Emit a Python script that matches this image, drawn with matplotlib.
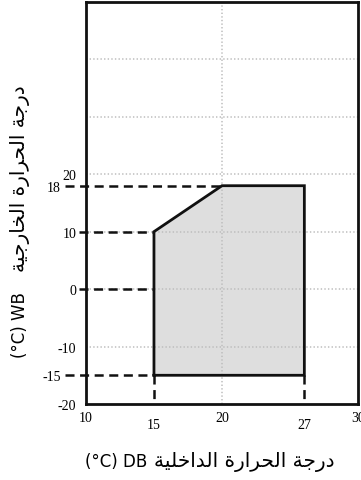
import matplotlib
matplotlib.use("Agg")
import matplotlib.pyplot as plt
import numpy as np

plt.rcParams["lines.scale_dashes"] = False

W_PX, H_PX = 361, 481

# 运行范围（室内干球 DB / 室外湿球 WB）
envelope_db = [15, 15, 20, 27, 27]
envelope_wb = [-15, 10, 18, 18, -15]

x_major = [10, 20, 30]
x_minor = [15, 27]
y_major = [-20, -10, 0, 10, 20]
y_minor = [-15, 18]
y_grid = [-10, 0, 10, 20, 30, 40]
x_grid = [20]

# 虚线引导线
guide_wb = [18, 10, 0, -15]
guide_db_end = [20, 15, 15, 15]
guide_db_start = [8.45, 9.5, 9.5, 8.45]
drop_db = [15, 27]
drop_wb = [-15, -20]

# 示意图的 x 轴不是线性的（27 画得偏左）
_src = [0, 10, 15, 20, 27, 30, 40]
_dst = [0, 10, 15, 20, 26.05, 30, 40]


def fwd(x):
    return np.interp(x, _src, _dst)


def inv(x):
    return np.interp(x, _dst, _src)


# 阿拉伯文：预先整形为显示顺序（matplotlib 不做连写）
ar_indoor = ("\uFE94\uFEF4\uFEE0\uFEA7\uFE8D\uFEAA\uFEDF\uFE8D "
             "\uFE93\uFEAD\uFE8D\uFEAE\uFEA4\uFEDF\uFE8D "
             "\uFE94\uFE9F\uFEAD\uFEA9")
ar_outdoor = ("\uFE94\uFEF4\uFE9F\uFEAD\uFE8E\uFEA8\uFEDF\uFE8D "
              "\uFE93\uFEAD\uFE8D\uFEAE\uFEA4\uFEDF\uFE8D "
              "\uFE94\uFE9F\uFEAD\uFEA9")
lat_indoor = "(°C) DB"
lat_outdoor = "(°C) WB"

fig = plt.figure(figsize=(W_PX / 100, H_PX / 100), dpi=100)
ax = fig.add_axes([0.238, 0.158, 0.754, 0.836])
ax.set_xscale("function", functions=(fwd, inv))
ax.set_xlim(10, 30)
ax.set_ylim(-20, 50)

grid_kw = dict(color="#bdbdbd", lw=1.1, ls=(0, (1, 1.6)), zorder=2)
for v in y_grid:
    ax.axhline(v, **grid_kw)
for v in x_grid:
    ax.axvline(v, **grid_kw)

ax.fill(envelope_db, envelope_wb, color="#dedede", zorder=1, lw=0)
ax.plot(envelope_db + [envelope_db[0]], envelope_wb + [envelope_wb[0]],
        color="#111111", lw=2.0, zorder=4, solid_joinstyle="miter")

dash_kw = dict(color="#111111", lw=1.8, dashes=(6.5, 4), zorder=3, clip_on=False)
for wb, x0, x1 in zip(guide_wb, guide_db_start, guide_db_end):
    ax.plot([x0, x1], [wb, wb], **dash_kw)
for db in drop_db:
    ax.plot([db, db], drop_wb, **dash_kw)

for s in ax.spines.values():
    s.set_linewidth(2.0)
    s.set_color("#111111")
    s.set_zorder(5)

tick_font = dict(family="Liberation Serif", size=10)
ax.set_xticks(x_major)
ax.set_xticks(x_minor, minor=True)
ax.set_xticklabels([str(v) for v in x_major], fontdict=tick_font)
ax.set_xticklabels([str(v) for v in x_minor], minor=True, fontdict=tick_font)
ax.set_yticks(y_major)
ax.set_yticks(y_minor, minor=True)
ax.set_yticklabels([str(v) for v in y_major], fontdict=tick_font)
ax.set_yticklabels([str(v) for v in y_minor], minor=True, fontdict=tick_font)
ax.tick_params(axis="x", which="major", length=0, pad=5)
ax.tick_params(axis="x", which="minor", length=0, pad=10)
ax.tick_params(axis="y", which="major", length=0, pad=7)
ax.tick_params(axis="y", which="minor", length=0, pad=18)

# 轴标题：拉丁部分和阿拉伯部分分开放，字号不同
def fx(px):
    return px / W_PX


def fy(px):
    return 1 - px / H_PX


fig.text(fx(147), fy(467), lat_indoor, fontsize=12, family="DejaVu Sans",
         ha="right", va="baseline")
fig.text(fx(154), fy(467), ar_indoor, fontsize=14.5, family="DejaVu Sans",
         ha="left", va="baseline")
fig.text(fx(25), fy(358), lat_outdoor, fontsize=12, family="DejaVu Sans",
         rotation=90, rotation_mode="anchor", ha="left", va="baseline")
fig.text(fx(25), fy(272), ar_outdoor, fontsize=14.5, family="DejaVu Sans",
         rotation=90, rotation_mode="anchor", ha="left", va="baseline")

fig.savefig("out.png", dpi=100)
